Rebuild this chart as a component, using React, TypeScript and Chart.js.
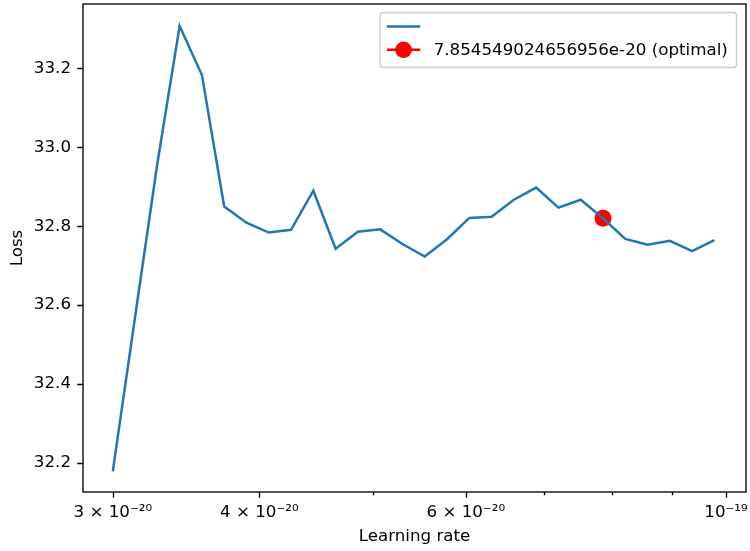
import React, { useEffect, useRef } from "react";
import { Chart, registerables } from "chart.js";

Chart.register(...registerables);

// Learning rates (x) and losses (y)
const LR = [
  3.0e-20, 3.13416e-20, 3.27432e-20, 3.42075e-20, 3.57373e-20, 3.73355e-20, 3.90051e-20,
  4.07494e-20, 4.25717e-20, 4.44755e-20, 4.64644e-20, 4.85423e-20, 5.07131e-20, 5.2981e-20,
  5.53502e-20, 5.78255e-20, 6.04114e-20, 6.3113e-20, 6.59353e-20, 6.88839e-20, 7.19643e-20,
  7.51825e-20, 7.85446e-20, 8.20571e-20, 8.57266e-20, 8.95603e-20, 9.35653e-20, 9.77495e-20,
];
const LOSS = [
  32.179, 32.57, 32.959, 33.307, 33.183, 32.85, 32.809, 32.784, 32.791, 32.89, 32.743, 32.786,
  32.792, 32.755, 32.723, 32.767, 32.821, 32.824, 32.867, 32.898, 32.847, 32.867, 32.82, 32.768,
  32.753, 32.763, 32.737, 32.765,
];
const OPT_LR = 7.854549024656956e-20;
const OPT_LOSS = 32.82;
const OPT_LABEL = "7.854549024656956e-20 (optimal)";

const X_MAJOR = [3e-20, 4e-20, 6e-20, 1e-19];
const X_MAJOR_LABELS = ["3 × 10⁻²⁰", "4 × 10⁻²⁰", "6 × 10⁻²⁰", "10⁻¹⁹"];
const X_MINOR = [5e-20, 7e-20, 8e-20, 9e-20];
const Y_TICKS = [32.2, 32.4, 32.6, 32.8, 33.0, 33.2];

const X_MIN = 2.8296e-20;
const X_MAX = 1.04e-19;
const Y_MIN = 32.1266;
const Y_MAX = 33.363;

const FONT = "DejaVu Sans";
const FS = 16.7;

const framePlugin = {
  id: "frameTicks",
  afterDraw(chart: any) {
    const ctx = chart.ctx;
    const ca = chart.chartArea;
    const xs = chart.scales.x;
    const ys = chart.scales.y;
    ctx.save();
    ctx.strokeStyle = "#000";
    ctx.lineWidth = 1.33;
    ctx.beginPath();
    X_MAJOR.forEach((v) => {
      const p = Math.round(xs.getPixelForValue(v)) + 0.5;
      ctx.moveTo(p, ca.bottom);
      ctx.lineTo(p, ca.bottom + 5.8);
    });
    X_MINOR.forEach((v) => {
      const p = Math.round(xs.getPixelForValue(v)) + 0.5;
      ctx.moveTo(p, ca.bottom);
      ctx.lineTo(p, ca.bottom + 3.3);
    });
    Y_TICKS.forEach((v) => {
      const p = Math.round(ys.getPixelForValue(v)) + 0.5;
      ctx.moveTo(ca.left, p);
      ctx.lineTo(ca.left - 5.8, p);
    });
    ctx.stroke();
    ctx.strokeRect(ca.left, ca.top, ca.right - ca.left, ca.bottom - ca.top);

    // legend
    const ds = chart.data.datasets;
    ctx.font = `${FS}px "${FONT}"`;
    const textW = Math.max(...ds.map((d: any) => ctx.measureText(d.label || "").width));
    const pad = 6.7;
    const handle = 33.4;
    const gap = 13.4;
    const right = ca.right - 9.5;
    const top = ca.top + 8.5;
    const left = right - (pad + handle + gap + textW + pad + 2);
    const rowH = 23.3;
    const height = 55;
    const r = 3;
    ctx.beginPath();
    ctx.moveTo(left + r, top);
    ctx.lineTo(right - r, top);
    ctx.quadraticCurveTo(right, top, right, top + r);
    ctx.lineTo(right, top + height - r);
    ctx.quadraticCurveTo(right, top + height, right - r, top + height);
    ctx.lineTo(left + r, top + height);
    ctx.quadraticCurveTo(left, top + height, left, top + height - r);
    ctx.lineTo(left, top + r);
    ctx.quadraticCurveTo(left, top, left + r, top);
    ctx.closePath();
    ctx.fillStyle = "rgba(255,255,255,0.8)";
    ctx.fill();
    ctx.strokeStyle = "#cccccc";
    ctx.lineWidth = 1.33;
    ctx.stroke();

    ds.forEach((d: any, i: number) => {
      const cy = top + 14 + i * rowH;
      const hx = left + pad;
      ctx.strokeStyle = d.borderColor;
      ctx.lineWidth = 2.5;
      ctx.beginPath();
      ctx.moveTo(hx, cy);
      ctx.lineTo(hx + handle, cy);
      ctx.stroke();
      if (d.legendMarker) {
        ctx.fillStyle = d.backgroundColor;
        ctx.beginPath();
        ctx.arc(hx + handle / 2, cy, 8.3, 0, Math.PI * 2);
        ctx.fill();
      }
      ctx.fillStyle = "#000";
      ctx.textBaseline = "middle";
      ctx.textAlign = "left";
      ctx.fillText(d.label || "", hx + handle + gap, cy + 1);
    });
    ctx.restore();
  },
};

export default function App() {
  const ref = useRef<HTMLCanvasElement | null>(null);
  useEffect(() => {
    if (!ref.current) return;
    const chart = new Chart(ref.current, {
      type: "line",
      data: {
        datasets: [
          {
            label: "",
            data: LR.map((x, i) => ({ x, y: LOSS[i] })),
            borderColor: "#1f77b4",
            backgroundColor: "#1f77b4",
            borderWidth: 2.5,
            pointRadius: 0,
            tension: 0,
            fill: false,
          },
          {
            label: OPT_LABEL,
            data: [{ x: OPT_LR, y: OPT_LOSS }],
            borderColor: "red",
            backgroundColor: "red",
            borderWidth: 0,
            pointRadius: 8.5,
            pointBorderWidth: 0,
            showLine: false,
            legendMarker: true,
          } as any,
        ],
      },
      plugins: [framePlugin],
      options: {
        animation: false,
        responsive: false,
        events: [],
        layout: { autoPadding: false, padding: { left: 0, top: 4, right: 4, bottom: 0 } },
        plugins: {
          legend: { display: false },
          tooltip: { enabled: false },
        },
        scales: {
          x: {
            type: "logarithmic",
            min: X_MIN,
            max: X_MAX,
            afterBuildTicks: (s: any) => {
              s.ticks = X_MAJOR.map((v) => ({ value: v, major: true }));
            },
            afterFit: (s: any) => {
              s.height = 59;
              s.paddingLeft = 0;
              s.paddingRight = 0;
              s.paddingTop = 0;
              s.paddingBottom = 0;
            },
            grid: { display: false, drawTicks: false, tickLength: 0 },
            border: { display: false },
            ticks: {
              autoSkip: false,
              maxRotation: 0,
              minRotation: 0,
              padding: 11,
              color: "#000",
              font: { family: FONT, size: FS },
              callback: (v: any) => {
                const i = X_MAJOR.findIndex((m) => Math.abs(m - v) / m < 1e-6);
                return i >= 0 ? X_MAJOR_LABELS[i] : "";
              },
            },
            title: {
              display: true,
              text: "Learning rate",
              color: "#000",
              font: { family: FONT, size: FS },
              padding: { top: 4, bottom: 4 },
            },
          },
          y: {
            type: "linear",
            min: Y_MIN,
            max: Y_MAX,
            afterBuildTicks: (s: any) => {
              s.ticks = Y_TICKS.map((v) => ({ value: v }));
            },
            afterFit: (s: any) => {
              s.width = 83;
              s.paddingLeft = 0;
              s.paddingRight = 0;
              s.paddingTop = 0;
              s.paddingBottom = 0;
            },
            grid: { display: false, drawTicks: false, tickLength: 0 },
            border: { display: false },
            ticks: {
              padding: 12,
              color: "#000",
              font: { family: FONT, size: FS },
              callback: (v: any) => Number(v).toFixed(1),
            },
            title: {
              display: true,
              text: "Loss",
              color: "#000",
              font: { family: FONT, size: FS },
              padding: { top: 8, bottom: 0 },
            },
          },
        },
      } as any,
    });
    return () => chart.destroy();
  }, []);
  return (
    <div style={{ position: "absolute", left: 0, top: 0, width: 750, height: 551, background: "#fff" }}>
      <canvas ref={ref} width={750} height={551} />
    </div>
  );
}
